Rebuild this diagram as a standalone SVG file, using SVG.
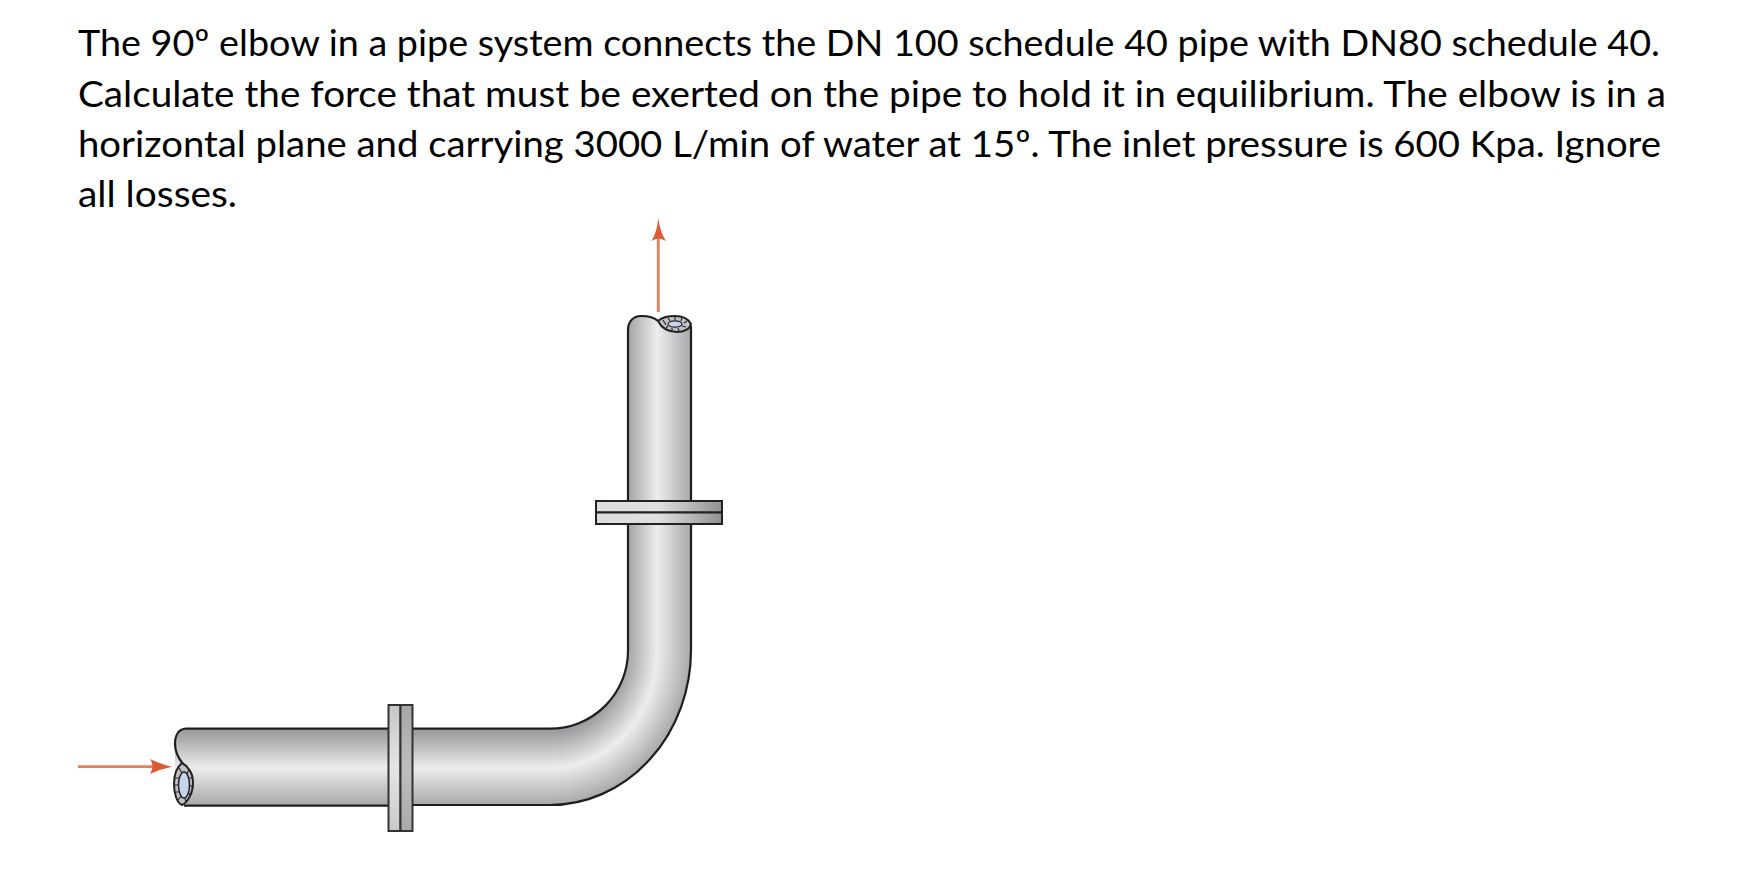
<svg xmlns="http://www.w3.org/2000/svg" width="1739" height="895" viewBox="0 0 1739 895">
<style>
.t{font-family:"Lato","Open Sans","Liberation Sans",sans-serif;font-size:37.5px;fill:#000}
.o{stroke:#1e1e1e;stroke-width:2.2;fill:none}
.a{stroke:#e2805f;stroke-width:2.8;fill:none}
.h{fill:#dd5a36}
.k{stroke:#2a2a2e;stroke-width:1.2;fill:none}
</style>
<defs>
<linearGradient id="gh" gradientUnits="userSpaceOnUse" x1="0" y1="729" x2="0" y2="805">
<stop offset=".04" stop-color="#9b9d9f"/><stop offset=".51" stop-color="#ecedee"/><stop offset="1" stop-color="#a6a8aa"/>
</linearGradient>
<linearGradient id="gv" gradientUnits="userSpaceOnUse" x1="628" y1="0" x2="691" y2="0">
<stop offset="0" stop-color="#a1a3a5"/><stop offset=".463" stop-color="#ecedee"/><stop offset="1" stop-color="#a6a8aa"/>
</linearGradient>
<radialGradient id="gb" gradientUnits="userSpaceOnUse" cx="0" cy="0" r="1" gradientTransform="translate(550 650) scale(141 155)">
<stop offset=".53" stop-color="#9b9d9f"/><stop offset=".76" stop-color="#ecedee"/><stop offset="1" stop-color="#a6a8aa"/>
</radialGradient>
<linearGradient id="f1" x1="0" y1="0" x2="0" y2="1"><stop offset="0" stop-color="#c4c6c8"/><stop offset=".5" stop-color="#e4e5e7"/><stop offset="1" stop-color="#c8cacc"/></linearGradient>
<linearGradient id="f2" x1="0" y1="0" x2="0" y2="1"><stop offset="0" stop-color="#a4a6a8"/><stop offset=".5" stop-color="#bcbec0"/><stop offset="1" stop-color="#a8aaac"/></linearGradient>
<linearGradient id="f3" x1="0" y1="0" x2="1" y2="0"><stop offset="0" stop-color="#dcdddf"/><stop offset=".5" stop-color="#dedfe0"/><stop offset="1" stop-color="#8f9193"/></linearGradient>
</defs>
<g id="problem-text">
<text class="t" x="78" y="56" textLength="1582" lengthAdjust="spacingAndGlyphs">The 90º elbow in a pipe system connects the DN 100 schedule 40 pipe with DN80 schedule 40.</text>
<text class="t" x="78" y="107" textLength="1588" lengthAdjust="spacingAndGlyphs">Calculate the force that must be exerted on the pipe to hold it in equilibrium. The elbow is in a</text>
<text class="t" x="78" y="157" textLength="1583" lengthAdjust="spacingAndGlyphs">horizontal plane and carrying 3000 L/min of water at 15º. The inlet pressure is 600 Kpa. Ignore</text>
<text class="t" x="78" y="207" textLength="159" lengthAdjust="spacingAndGlyphs">all losses.</text>
</g>
<g id="pipe">
<path fill="url(#gh)" d="M186 729H550.5V805.5H186Q178 805 175 790L175 745Q176 729 186 729Z"/>
<path fill="url(#gv)" d="M628 650.5V330Q632 316 641 316Q652 316 660 322L688 322L691 328V650.5Z"/>
<path fill="url(#gb)" d="M550 728.5A78 78 0 0 0 628 650H691A141 155 0 0 1 550 805Z"/>
<path class="o" d="M388 728.7H550A78 78 0 0 0 628 650V330C628 322 633 316 641 316C649 316 654 317 658 321"/>
<path class="o" d="M691 326V650A141 155 0 0 1 550 805H412"/>
<path class="o" d="M388 728.7H186C178 729 175 736 175 744C175 753 179 759 183 764"/>
<path class="o" d="M388 805.7H184"/>
</g>
<g id="inlet-end">
<path d="M182 763C188 766 193 773 193 783C193 793 188 802 182 805C177 803 174 794 174 784C174 775 177 767 182 763Z" fill="#bfc1c5" stroke="#222" stroke-width="2"/>
<ellipse cx="184" cy="785" rx="5.5" ry="13" fill="#c7d4ea" stroke="#222" stroke-width="1.5"/>
<path class="k" d="M174.5 778H179M174 785H178.5M175 792H179.5M178 800L181 796M179 768L182 773M189 769L187 774M192 778H189M192.5 786H189.5M191 795L188 793M186 803L185 798"/>
</g>
<g id="outlet-end">
<path d="M658 321C662 317 668 316 675 316C682 316 688 318 691 324C690 329 684 332 677 332C669 332 662 329 658 321Z" fill="#bfc1c5" stroke="#222" stroke-width="2"/>
<ellipse cx="675" cy="324" rx="7" ry="3.2" fill="#c7d4ea" stroke="#222" stroke-width="1.2"/>
<path class="k" d="M663 320L666 325M668 318L670 321M675 316.5V320M682 318L681 321M687 321L684 323M686 327L682 326M679 331L678 328M672 331L672 328M666 328L668 326"/>
</g>
<g id="flange-h">
<rect x="388.5" y="705" width="12" height="126" fill="url(#f1)" stroke="#333" stroke-width="2"/>
<rect x="400.5" y="705" width="12" height="126" fill="url(#f2)" stroke="#333" stroke-width="2"/>
</g>
<g id="flange-v">
<rect x="596" y="501" width="126" height="11.5" fill="url(#f3)" stroke="#222" stroke-width="2"/>
<rect x="596" y="512.5" width="126" height="11.5" fill="url(#f3)" stroke="#222" stroke-width="2"/>
</g>
<g id="connectors">
<path class="a" d="M658.3 312V238"/>
<path class="h" d="M658.3 218Q660 232 666 241Q658.3 236 651.5 241Q657 232 658.3 218Z"/>
<path class="a" d="M78 766.7H155"/>
<path class="h" d="M172 766.7Q160 769 150 774Q155 766.7 150 759Q160 764 172 766.7Z"/>
</g>
</svg>
